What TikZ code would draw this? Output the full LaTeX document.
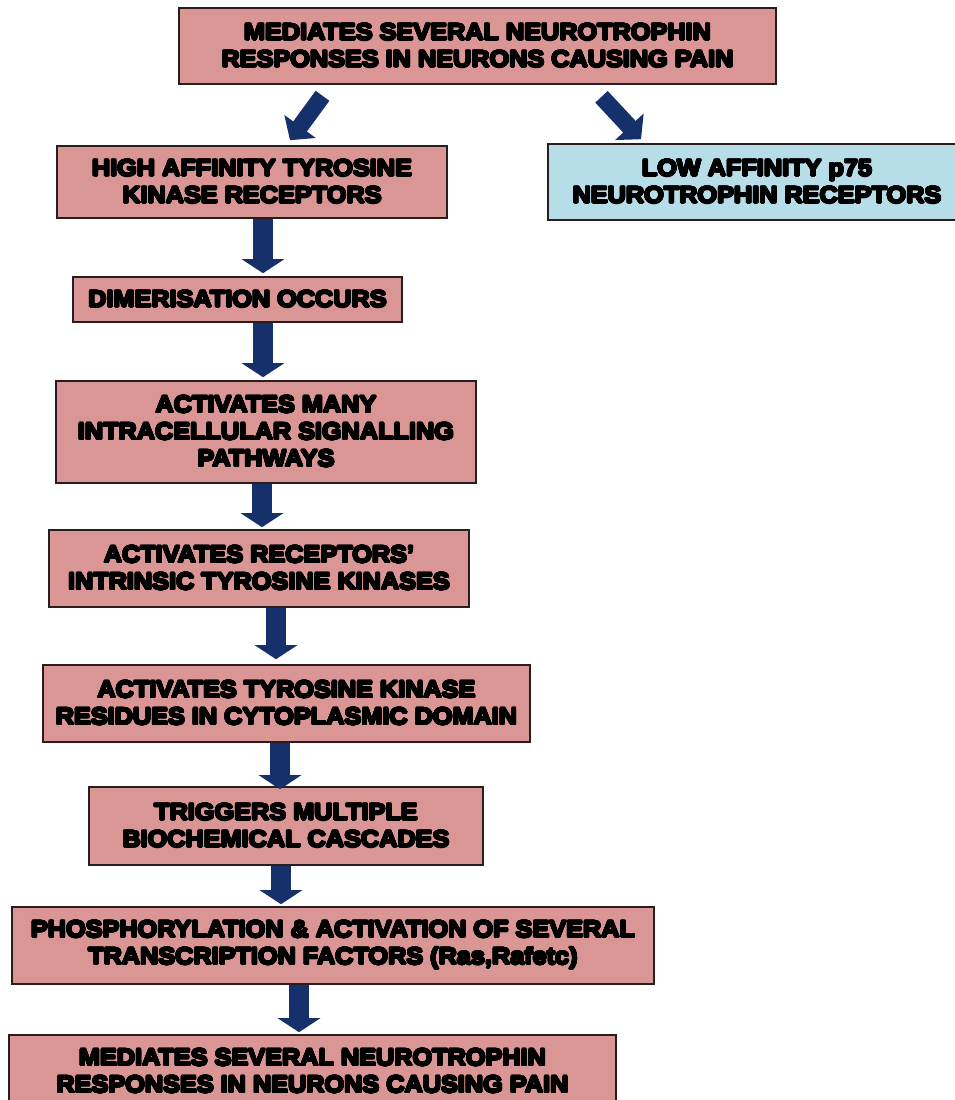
\documentclass[tikz,border=0pt]{standalone}
\usepackage{fontspec}
\usepackage[copies]{contour}
\contourlength{0.85pt}
\contournumber{24}
\newfontfamily\heavy{Liberation Sans}[BoldFeatures={FakeStretch=1.075}]
\usetikzlibrary{arrows.meta,calc}
\definecolor{pinkfill}{RGB}{217,150,148}
\definecolor{bluefill}{RGB}{183,221,232}
\definecolor{navy}{RGB}{22,48,108}
\definecolor{edge}{RGB}{40,30,30}
\newcommand{\hv}[1]{\contour{black}{#1}}
\tikzset{
  box/.style={draw=edge, line width=1.6pt, fill=pinkfill, inner sep=0pt, align=center,
    font=\heavy\bfseries\fontsize{23.5}{27}\selectfont},
  bluebox/.style={box, fill=bluefill},
  barrow/.style={draw=navy, line width=20pt, -{Triangle[width=42pt,length=14pt]}},
  darrow/.style={draw=navy, line width=17pt, -{Triangle[width=38pt,length=17pt]}}
}
\newcommand{\bx}[7]{% name, style, x1, y1, x2, y2, text
  \node[#2, minimum width={#5-#3}, minimum height={#6-#4}] (#1) at ({(#3+#5)/2},{(#4+#6)/2}) {#7};}
\begin{document}
\begin{tikzpicture}[x=1pt, y=-1pt]
\useasboundingbox (0,0) rectangle (955,1100);
\clip (0,0) rectangle (955,1100);
\fill[white] (0,0) rectangle (955,1100);
\bx{n1}{box}{179}{8}{776}{84}{\hv{MEDIATES SEVERAL NEUROTROPHIN}\\\hv{RESPONSES IN NEURONS CAUSING PAIN}}
\bx{n2}{box}{57}{146}{447}{218}{\hv{HIGH AFFINITY TYROSINE}\\\hv{KINASE RECEPTORS}}
\bx{n3}{bluebox}{548}{144}{966}{220}{\hv{LOW AFFINITY p75}\\\hv{NEUROTROPHIN RECEPTORS}}
\bx{n4}{box}{73}{277}{402}{322}{\hv{DIMERISATION OCCURS}}
\bx{n5}{box}{56}{381}{476}{483}{\hv{ACTIVATES MANY}\\\hv{INTRACELLULAR SIGNALLING}\\\hv{PATHWAYS}}
\bx{n6}{box}{49}{530}{469}{607}{\hv{ACTIVATES RECEPTORS’}\\\hv{INTRINSIC TYROSINE KINASES}}
\bx{n7}{box}{43}{665}{530}{742}{\hv{ACTIVATES TYROSINE KINASE}\\\hv{RESIDUES IN CYTOPLASMIC DOMAIN}}
\bx{n8}{box}{89}{787}{483}{865}{\hv{TRIGGERS MULTIPLE}\\\hv{BIOCHEMICAL CASCADES}}
\bx{n9}{box}{12}{907}{654}{984}{\hv{PHOSPHORYLATION \& ACTIVATION OF SEVERAL}\\\hv{TRANSCRIPTION FACTORS (Ras,Rafetc)}}
\bx{n10}{box}{9}{1035}{616}{1108}{\hv{MEDIATES SEVERAL NEUROTROPHIN}\\\hv{RESPONSES IN NEURONS CAUSING PAIN}}
% diagonal arrows
\draw[darrow] ($(n1.south)+(-155,11)$) -- ($(n2.north)+(38,-5)$);
\draw[darrow] ($(n1.south)+(124,12)$) -- ($(n3.north)+(-116,-4)$);
% vertical arrows
\draw[barrow] ([xshift=11pt]n2.south) -- ([xshift=11pt,yshift=3pt]n2.south |- n4.north);
\draw[barrow] ([xshift=25.5pt]n4.south) -- ([xshift=25.5pt,yshift=3pt]n4.south |- n5.north);
\draw[barrow] ([xshift=-4pt]n5.south) -- ([xshift=-4pt,yshift=2pt]n5.south |- n6.north);
\draw[barrow] ([xshift=17pt]n6.south) -- ([xshift=17pt,yshift=5pt]n6.south |- n7.north);
\draw[barrow] ([xshift=-6.5pt]n7.south) -- ([xshift=-6.5pt,yshift=-3pt]n7.south |- n8.north);
\draw[barrow] ([xshift=-5pt]n8.south) -- ([xshift=-5pt,yshift=2pt]n8.south |- n9.north);
\draw[barrow] ([xshift=-34pt]n9.south) -- ([xshift=-34pt,yshift=2pt]n9.south |- n10.north);
\end{tikzpicture}
\end{document}
